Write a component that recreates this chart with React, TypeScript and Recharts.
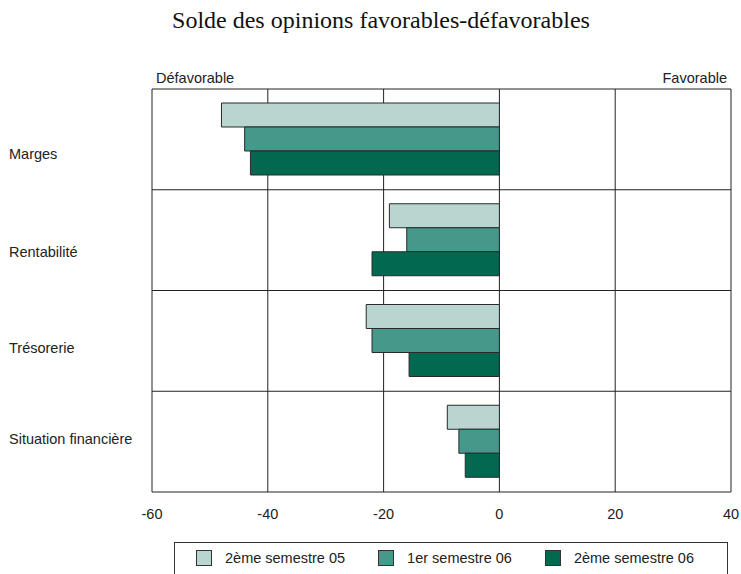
import React from "react";
import {
  BarChart,
  Bar,
  XAxis,
  YAxis,
  CartesianGrid,
  Legend,
} from "recharts";

// Categories (top to bottom) and balance of opinions per half-year
const categories = ["Marges", "Rentabilité", "Trésorerie", "Situation financière"];
const s2_05 = [-48, -19, -23, -9];
const s1_06 = [-44, -16, -22, -7];
const s2_06 = [-43, -22, -15.6, -5.9];

const seriesNames = ["2ème semestre 05", "1er semestre 06", "2ème semestre 06"];
const seriesColors = ["#b8d5cf", "#45998a", "#00694f"];
const xTicks = [-60, -40, -20, 0, 20, 40];

const title = "Solde des opinions favorables-défavorables";
const leftCaption = "Défavorable";
const rightCaption = "Favorable";

const data = categories.map((name, i) => ({
  name,
  a: s2_05[i],
  b: s1_06[i],
  c: s2_06[i],
}));
const keys = ["a", "b", "c"];

const SANS = "'Liberation Sans', Arial, Helvetica, sans-serif";
const SERIF = "'Liberation Serif', 'Times New Roman', serif";

const W = 741;
const H = 574;

// vertical shift of each category label from its band centre
const labelShift = [20, 16.5, 12.5, 2.5];

const CategoryTick = (props: any) => {
  const { y, payload, index } = props;
  return (
    <text
      x={9}
      y={y + (labelShift[index] ?? 5)}
      textAnchor="start"
      fontFamily={SANS}
      fontSize={14.5}
      fill="#222"
    >
      {payload.value}
    </text>
  );
};

const ValueTick = (props: any) => {
  const { x, payload } = props;
  return (
    <text
      x={x}
      y={519}
      textAnchor="middle"
      fontFamily={SANS}
      fontSize={14.5}
      fill="#222"
    >
      {payload.value}
    </text>
  );
};

const LegendBox = () => (
  <div
    style={{
      boxSizing: "border-box",
      width: "100%",
      height: "100%",
      border: "1px solid #333",
      display: "flex",
      alignItems: "flex-start",
      paddingLeft: 21,
      paddingTop: 7,
      fontFamily: SANS,
      fontSize: 14.5,
      color: "#222",
    }}
  >
    {seriesNames.map((name, i) => (
      <div key={name} style={{ display: "flex", alignItems: "center", marginRight: 33 }}>
        <span
          style={{
            display: "inline-block",
            boxSizing: "border-box",
            width: 16,
            height: 16,
            background: seriesColors[i],
            border: "1px solid #333",
            marginRight: 13,
          }}
        />
        <span>{name}</span>
      </div>
    ))}
  </div>
);

export default function App() {
  return (
    <div style={{ position: "absolute", left: 0, top: 0, width: W, height: H, background: "#fff" }}>
      <BarChart
        width={W}
        height={H}
        data={data}
        layout="vertical"
        margin={{ top: 89, left: 151, right: 10, bottom: 52 }}
        barCategoryGap={14}
        barGap={0}
      >
        <CartesianGrid
          stroke="#222"
          strokeWidth={1}
          horizontalCoordinatesGenerator={({ offset }: any) => {
            const step = offset.height / categories.length;
            return Array.from({ length: categories.length + 1 }, (_, i) => offset.top + i * step);
          }}
        />
        <XAxis
          type="number"
          domain={[-60, 40]}
          ticks={xTicks}
          interval={0}
          height={30}
          axisLine={false}
          tickLine={false}
          tick={<ValueTick />}
        />
        <YAxis
          type="category"
          dataKey="name"
          width={1}
          axisLine={false}
          tickLine={false}
          interval={0}
          tick={<CategoryTick />}
        />
        <Legend
          layout="horizontal"
          verticalAlign="middle"
          align="center"
          wrapperStyle={{ left: 174, top: 542, width: 554, height: 40 }}
          content={<LegendBox />}
        />
        {keys.map((k, i) => (
          <Bar
            key={k}
            dataKey={k}
            name={seriesNames[i]}
            fill={seriesColors[i]}
            stroke="#2a2a2a"
            strokeWidth={1}
            isAnimationActive={false}
          />
        ))}
      </BarChart>
      <svg
        width={W}
        height={H}
        style={{ position: "absolute", left: 0, top: 0, pointerEvents: "none" }}
      >
        <text x={381} y={28} textAnchor="middle" fontFamily={SERIF} fontSize={24} fill="#111">
          {title}
        </text>
        <text x={156} y={83} textAnchor="start" fontFamily={SANS} fontSize={14.5} fill="#222">
          {leftCaption}
        </text>
        <text x={727} y={83} textAnchor="end" fontFamily={SANS} fontSize={14.5} fill="#222">
          {rightCaption}
        </text>
      </svg>
    </div>
  );
}
